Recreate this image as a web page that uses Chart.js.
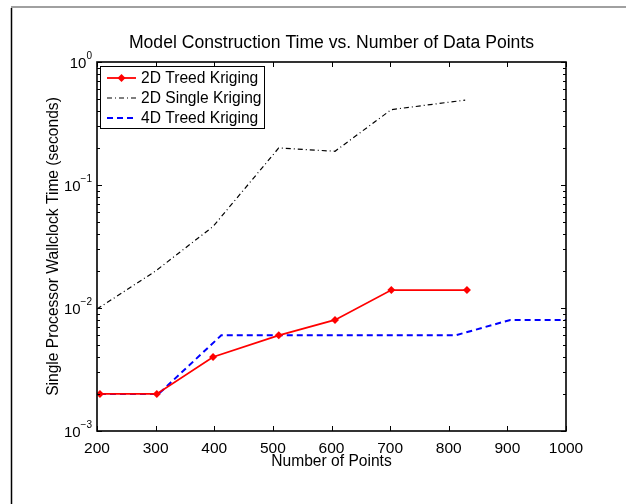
<!DOCTYPE html>
<html>
<head>
<meta charset="utf-8">
<script src="https://cdn.jsdelivr.net/npm/chart.js@4.4.1/dist/chart.umd.min.js"></script>
<style>
  html,body{margin:0;padding:0;background:#fff;overflow:hidden;}
  #wrap{position:relative;width:626px;height:504px;}
</style>
</head>
<body>
<div id="wrap"><canvas id="c" width="626" height="504"></canvas></div>
<script>
// data
const treed2dX = [205, 302, 398, 510, 606, 702, 831];
const treed2dY = [0.002, 0.002, 0.004, 0.006, 0.008, 0.014, 0.014];
const single2dX = [200, 300, 398, 510, 606, 702, 828];
const single2dY = [0.0098, 0.02, 0.046, 0.2, 0.188, 0.41, 0.49];
const treed4dX = [205, 305, 412, 812, 905, 1000];
const treed4dY = [0.002, 0.002, 0.006, 0.006, 0.008, 0.008];
const seriesNames = ['2D Treed Kriging', '2D Single Kriging', '4D Treed Kriging'];
const xTicks = [200, 300, 400, 500, 600, 700, 800, 900, 1000];
const yExponents = [-3, -2, -1, 0];

const FONT = '"Liberation Sans", Arial, Helvetica, sans-serif';
const pts = (xs, ys) => xs.map((x, i) => ({x: x, y: ys[i]}));

const styles = [
  {color: '#ff0000', width: 1.8, dash: [], marker: true},
  {color: '#000000', width: 1.2, dash: [5, 3, 1, 3], marker: false},
  {color: '#0000ff', width: 2, dash: [6, 4], marker: false}
];

// frame, box, ticks, labels and legend
const decor = {
  id: 'decor',
  beforeDraw(chart){
    const c = chart.ctx;
    c.save();
    c.fillStyle = '#fff'; c.fillRect(0, 0, chart.width, chart.height);
    c.strokeStyle = '#a0a0a0'; c.lineWidth = 2;
    c.beginPath(); c.moveTo(11, 7); c.lineTo(626, 7); c.stroke();
    c.strokeStyle = '#000'; c.lineWidth = 1.5;
    c.beginPath(); c.moveTo(11.5, 8); c.lineTo(11.5, 504); c.stroke();
    c.restore();
  },
  afterDatasetsDraw(chart){
    const c = chart.ctx, a = chart.chartArea;
    const xs = chart.scales.x, ys = chart.scales.y;
    c.save();
    c.strokeStyle = '#000'; c.lineWidth = 1;
    // x ticks, inward on bottom and top
    xTicks.forEach(v => {
      const px = Math.round(xs.getPixelForValue(v)) + 0.5;
      c.beginPath();
      c.moveTo(px, a.bottom); c.lineTo(px, a.bottom - 5);
      c.moveTo(px, a.top); c.lineTo(px, a.top + 5);
      c.stroke();
    });
    // y log ticks, inward on left and right
    yExponents.forEach(e => {
      for (let m = 1; m <= 9; m++) {
        const v = m * Math.pow(10, e);
        if (v > 1.0001) break;
        const py = Math.round(ys.getPixelForValue(v)) + 0.5;
        const len = m === 1 ? 5 : 3;
        c.beginPath();
        c.moveTo(a.left, py); c.lineTo(a.left + len, py);
        c.moveTo(a.right, py); c.lineTo(a.right - len, py);
        c.stroke();
      }
    });
    // axes box
    c.lineWidth = 1.6;
    c.strokeRect(a.left, a.top, a.right - a.left, a.bottom - a.top);

    // y tick labels 10^n
    c.fillStyle = '#000';
    c.textBaseline = 'middle';
    yExponents.forEach(e => {
      const py = ys.getPixelForValue(Math.pow(10, e));
      const ex = String(e).replace('-', '\u2212');
      c.font = '10px ' + FONT;
      const ew = c.measureText(ex).width;
      c.textAlign = 'left';
      c.fillText(ex, a.left - 5 - ew, py - 6);
      c.font = '15px ' + FONT;
      c.textAlign = 'right';
      c.fillText('10', a.left - 5 - ew, py + 2);
    });

    // title and axis titles
    c.textAlign = 'center';
    c.font = '17.6px ' + FONT;
    c.fillText('Model Construction Time vs. Number of Data Points', (a.left + a.right) / 2, 43);
    c.font = '15.6px ' + FONT;
    c.fillText('Number of Points', (a.left + a.right) / 2, 462);
    c.save();
    c.translate(54, (a.top + a.bottom) / 2);
    c.rotate(-Math.PI / 2);
    c.fillText('Single Processor Wallclock Time (seconds)', 0, 0);
    c.restore();

    // legend
    const lx = 100, ly = 66, lw = 164, lh = 62;
    c.fillStyle = '#fff';
    c.fillRect(lx, ly, lw, lh);
    c.lineWidth = 1; c.strokeStyle = '#000';
    c.strokeRect(lx + 0.5, ly + 0.5, lw, lh);
    seriesNames.forEach((name, i) => {
      const s = styles[i], ry = ly + 12 + i * 20;
      c.strokeStyle = s.color; c.lineWidth = s.width;
      c.setLineDash(s.dash);
      c.beginPath(); c.moveTo(lx + 7, ry); c.lineTo(lx + 36, ry); c.stroke();
      c.setLineDash([]);
      if (s.marker) {
        c.fillStyle = s.color;
        c.beginPath();
        c.moveTo(lx + 21.5, ry - 4); c.lineTo(lx + 25.5, ry);
        c.lineTo(lx + 21.5, ry + 4); c.lineTo(lx + 17.5, ry);
        c.closePath(); c.fill();
      }
      c.fillStyle = '#000';
      c.font = '15.6px ' + FONT;
      c.textAlign = 'left';
      c.fillText(name, lx + 41, ry + 1);
    });
    c.restore();
  }
};

new Chart(document.getElementById('c'), {
  type: 'line',
  data: {
    datasets: [
      {label: seriesNames[0], data: pts(treed2dX, treed2dY), borderColor: styles[0].color,
       backgroundColor: styles[0].color, borderWidth: styles[0].width, pointStyle: 'rectRot',
       pointRadius: 4, pointBorderWidth: 0, tension: 0},
      {label: seriesNames[1], data: pts(single2dX, single2dY), borderColor: styles[1].color,
       borderWidth: styles[1].width, borderDash: styles[1].dash, pointRadius: 0, tension: 0},
      {label: seriesNames[2], data: pts(treed4dX, treed4dY), borderColor: styles[2].color,
       borderWidth: styles[2].width, borderDash: styles[2].dash, pointRadius: 0, tension: 0}
    ]
  },
  options: {
    responsive: false,
    animation: false,
    layout: {padding: {top: 62, right: 60, left: 0, bottom: 0}},
    plugins: {legend: {display: false}, title: {display: false}, tooltip: {enabled: false}},
    scales: {
      x: {
        type: 'linear', min: 200, max: 1000,
        grid: {display: false}, border: {display: false},
        afterBuildTicks: s => { s.ticks = xTicks.map(v => ({value: v})); },
        afterFit: s => { s.height = 73; },
        ticks: {color: '#000', padding: 0, maxRotation: 0, autoSkip: false,
                callback: v => String(v),
                font: {family: FONT, size: 15.5}}
      },
      y: {
        type: 'logarithmic', min: 0.001, max: 1,
        grid: {display: false}, border: {display: false},
        ticks: {display: false},
        afterFit: s => { s.width = 97; }
      }
    }
  },
  plugins: [decor]
});
</script>
</body>
</html>
